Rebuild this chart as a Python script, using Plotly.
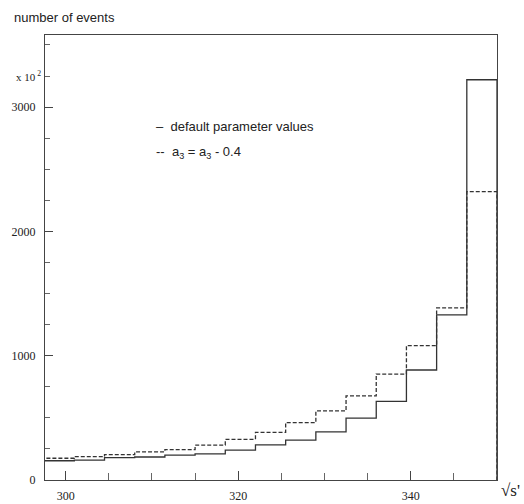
import plotly.graph_objects as go

# Histogram binning in sqrt(s') (15 bins of width 3.5)
bin_edges = [297.5 + 3.5 * i for i in range(16)]

# Number of events per bin
default_counts = [155, 160, 180, 185, 200, 210, 240, 282, 320, 387, 497, 632, 885, 1328, 3220]
shifted_counts = [175, 188, 204, 226, 245, 281, 327, 383, 462, 556, 677, 852, 1081, 1384, 2320]

x_major_ticks = [300, 320, 340]
y_major_ticks = [0, 1000, 2000, 3000]
y_tick_text = ["0", "1000", "2000", "3000"]

INK = "#222222"
SERIF = "Liberation Serif, Times New Roman, serif"
SANS = "Liberation Sans, Arial, sans-serif"

# plot-area geometry in pixels (used to place free text)
L, R, T, B = 45, 27, 35, 24
PW, PH = 524 - L - R, 504 - T - B


def px_x(x):
    return (x - L) / PW


def px_y(y):
    return (504 - B - y) / PH


def step_outline(edges, counts):
    xs = [edges[0]] + list(edges) + [edges[-1]]
    ys = [0] + list(counts) + [counts[-1], 0]
    return xs, ys


fig = go.Figure()

xs, ys = step_outline(bin_edges, shifted_counts)
fig.add_trace(go.Scatter(x=xs, y=ys, mode="lines", line_shape="hv",
                         line=dict(color="#333333", width=1.3, dash="4px,2px"),
                         hoverinfo="skip", showlegend=False))

xs, ys = step_outline(bin_edges, default_counts)
fig.add_trace(go.Scatter(x=xs, y=ys, mode="lines", line_shape="hv",
                         line=dict(color="#333333", width=1.3),
                         hoverinfo="skip", showlegend=False))

fig.update_xaxes(range=[297.6, 350], showgrid=False, zeroline=False, automargin=False,
                 showline=True, mirror=True, linecolor="#444444", linewidth=1.2,
                 tickvals=x_major_ticks, ticks="inside", ticklen=9, tickcolor="#444444",
                 ticklabelstandoff=4,
                 tickfont=dict(family=SERIF, size=12, color=INK),
                 minor=dict(dtick=5, tick0=300, ticks="inside", ticklen=7, tickcolor="#666666"))

fig.update_yaxes(range=[0, 3580], showgrid=False, zeroline=False, automargin=False,
                 showline=True, mirror=True, linecolor="#444444", linewidth=1.2,
                 tickvals=y_major_ticks, ticktext=y_tick_text,
                 ticks="inside", ticklen=8, tickcolor="#444444",
                 ticklabelstandoff=6,
                 tickfont=dict(family=SERIF, size=12, color=INK),
                 minor=dict(dtick=250, tick0=0, ticks="inside", ticklen=5, tickcolor="#666666"))

fig.update_layout(
    width=524, height=504,
    margin=dict(l=L, r=R, t=T, b=B),
    paper_bgcolor="white", plot_bgcolor="white",
    annotations=[
        dict(text="number of events", xref="paper", yref="paper",
             x=px_x(12), y=px_y(18), xanchor="left", yanchor="middle",
             showarrow=False, font=dict(family=SANS, size=13, color=INK)),
        dict(text="x 10<sup> 2</sup>", xref="paper", yref="y",
             x=px_x(43), y=3250, xanchor="right", yanchor="middle",
             showarrow=False, font=dict(family=SERIF, size=11, color=INK)),
        dict(text="–  default parameter values", xref="paper", yref="paper",
             x=px_x(154), y=px_y(126), xanchor="left", yanchor="middle",
             showarrow=False, font=dict(family=SANS, size=13, color=INK)),
        dict(text="--  a<sub>3</sub> = a<sub>3</sub> - 0.4", xref="paper", yref="paper",
             x=px_x(154), y=px_y(152), xanchor="left", yanchor="middle",
             showarrow=False, font=dict(family=SANS, size=13, color=INK)),
        dict(text="√s'", xref="paper", yref="paper",
             x=px_x(499), y=px_y(491), xanchor="left", yanchor="middle",
             showarrow=False, font=dict(family=SERIF, size=17, color=INK)),
    ],
)

fig.write_html("out.html")
